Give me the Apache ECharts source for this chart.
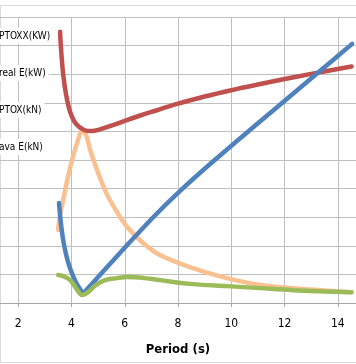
<!DOCTYPE html>
<html>
<head>
<meta charset="utf-8">
<script src="https://cdn.jsdelivr.net/npm/echarts@6/dist/echarts.min.js"></script>
<style>html,body{margin:0;padding:0;background:#fff}#c{width:356px;height:364px}</style>
</head>
<body>
<div id="c"></div>
<script>
// Legend labels (visible part)
const legendNames = ['PTOXX(KW)', 'real E(kW)', 'PTOX(kN)', 'ava E(kN)'];
const xTicks = [2, 4, 6, 8, 10, 12, 14];

// [period (s), value]
const ptoxxKW = [[3.53,3.50],[3.61,2.73],[3.72,2.03],[3.87,1.43],[4.06,0.94],[4.25,0.59],[4.45,0.38],[4.62,0.52],[5.07,0.98],[5.82,1.75],[7.06,2.99],[8.08,3.92],[9.28,4.92],[10.70,6.05],[12.02,7.08],[13.33,8.11],[14.54,9.06]];
const realEkW = [[3.57,9.48],[3.61,8.85],[3.69,7.97],[3.80,7.27],[3.95,6.68],[4.17,6.26],[4.47,6.05],[4.77,6.01],[5.07,6.07],[5.50,6.20],[6.00,6.37],[6.50,6.53],[7.00,6.68],[8.00,6.97],[9.00,7.22],[10.00,7.44],[11.00,7.64],[12.00,7.83],[13.00,8.01],[14.00,8.18],[14.52,8.27]];
const ptoxKN = [[3.50,0.98],[3.69,0.94],[3.95,0.80],[4.17,0.52],[4.40,0.28],[4.62,0.38],[4.92,0.63],[5.26,0.80],[5.71,0.87],[6.09,0.91],[6.76,0.87],[7.32,0.80],[8.56,0.66],[9.84,0.59],[11.07,0.52],[12.31,0.45],[14.52,0.38]];
const avaEkN = [[3.50,2.55],[3.57,3.08],[3.69,3.60],[3.84,4.30],[4.02,5.00],[4.21,5.59],[4.40,6.01],[4.55,5.87],[4.70,5.35],[5.00,4.55],[5.34,3.78],[5.71,3.18],[6.09,2.66],[6.69,2.10],[7.32,1.68],[8.56,1.22],[9.84,0.87],[11.07,0.63],[12.31,0.52],[13.32,0.45],[14.45,0.38]];

const FONT = "'Liberation Sans Narrow', 'DejaVu Sans Condensed', 'Liberation Sans', sans-serif";
const chart = echarts.init(document.getElementById('c'), null, {renderer: 'canvas'});
const mk = (name, data, color, z) => ({
  name, type: 'line', data, smooth: 0.35, symbol: 'none', z,
  lineStyle: {color, width: 4.5, cap: 'round', join: 'round'},
  itemStyle: {color}
});
chart.setOption({
  animation: false,
  backgroundColor: '#fff',
  graphic: [{
    type: 'rect', left: -2, top: 3, shape: {width: 360, height: 357},
    style: {fill: 'none', stroke: '#d9d9d9', lineWidth: 1}, z: -10, silent: true
  }],
  grid: {left: -35, right: -35, top: 17, bottom: 61, outerBoundsMode: 'none', containLabel: false},
  legend: {
    data: legendNames, orient: 'vertical', left: -14, top: 23,
    itemWidth: 0, itemHeight: 14, itemGap: 21, icon: 'rect',
    textStyle: {fontFamily: FONT, fontSize: 10, color: '#000', backgroundColor: '#fff', padding: [1, 3], lineHeight: 14},
    z: 20
  },
  xAxis: {
    type: 'value', min: 0, max: 16, interval: 2,
    name: 'Period (s)', nameLocation: 'middle', nameGap: 40,
    nameTextStyle: {fontFamily: FONT, fontSize: 13, fontWeight: 'bold', color: '#000'},
    axisLine: {show: true, lineStyle: {color: '#a6a6a6', width: 1}},
    axisTick: {show: true, length: 4, lineStyle: {color: '#a6a6a6'}},
    axisLabel: {fontFamily: FONT, fontSize: 12, color: '#000', margin: 15,
      formatter: v => xTicks.indexOf(v) >= 0 ? String(v) : ''},
    splitLine: {show: true, lineStyle: {color: '#bfbfbf', width: 1}}
  },
  yAxis: {
    type: 'value', min: 0, max: 10, interval: 1,
    axisLine: {show: false}, axisTick: {show: false}, axisLabel: {show: false},
    splitLine: {show: true, lineStyle: {color: '#bfbfbf', width: 1}}
  },
  series: [
    mk('ava E(kN)', avaEkN, '#FAC090', 2),
    mk('real E(kW)', realEkW, '#C0504D', 3),
    mk('PTOXX(KW)', ptoxxKW, '#4F81BD', 4),
    mk('PTOX(kN)', ptoxKN, '#9BBB59', 5)
  ]
});
</script>
</body>
</html>
